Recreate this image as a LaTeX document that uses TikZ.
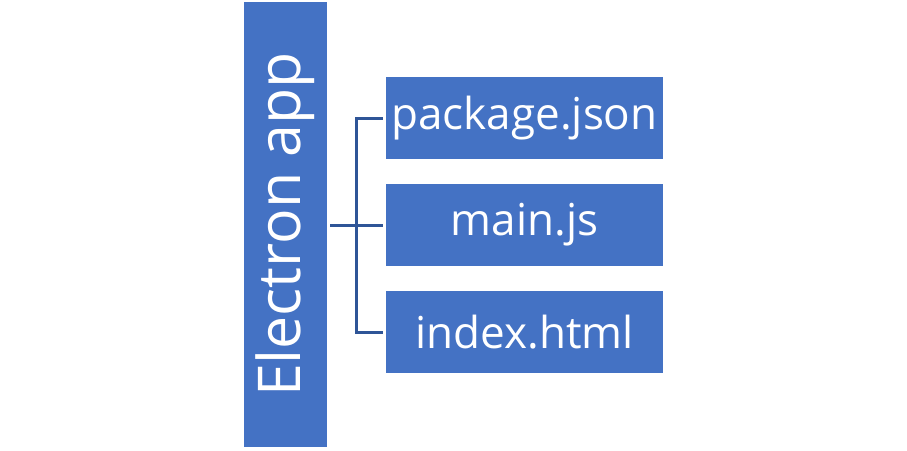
\documentclass[tikz,border=0pt]{standalone}
\usepackage{fontspec}
\setmainfont{Open Sans}
\definecolor{boxblue}{HTML}{4472C4}
\definecolor{linkblue}{HTML}{2F5597}

\begin{document}
\begin{tikzpicture}[x=1pt, y=-1pt,
    filebox/.style={fill=boxblue, text=white, inner sep=0pt,
        minimum width=277pt, minimum height=82pt,
        font=\fontsize{44}{50}\selectfont},
    link/.style={draw=linkblue, line width=3pt}]
    \useasboundingbox (0, 0) rectangle (907, 450);

    \node[fill=boxblue, inner sep=0pt, minimum width=83pt, minimum height=445pt] (app) at (285.5, 224.5) {};
    \node[text=white, rotate=90, font=\fontsize{59}{66}\selectfont] at (app.center) {Electron app};

    \node[filebox] (pkg) at (524.5, 118) {package.json};
    \node[filebox] (main) at (524.5, 225) {main.js};
    \node[filebox] (html) at (524.5, 332) {index.html};

    \coordinate (hub) at (356, 225);
    \draw[link] ([xshift=3pt]app.east |- hub) -- (hub);
    \draw[link] ([xshift=-3pt]pkg.west) -| (hub) |- ([xshift=-3pt]html.west);
    \draw[link] (hub) -- ([xshift=-3pt]main.west);
\end{tikzpicture}
\end{document}
